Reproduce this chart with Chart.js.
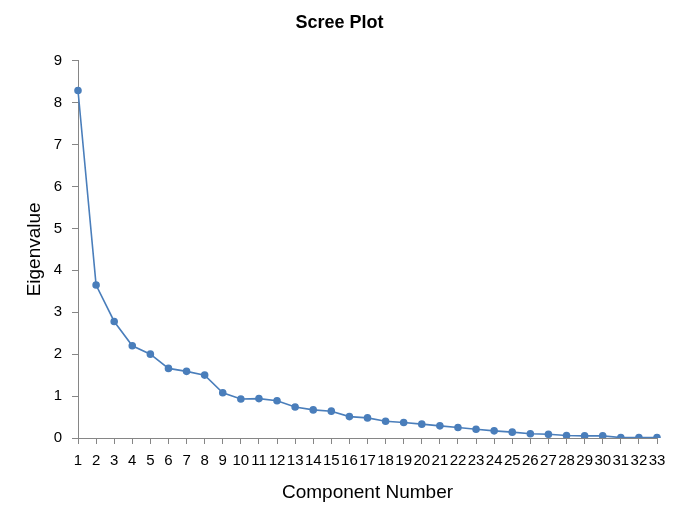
<!DOCTYPE html>
<html>
<head>
<meta charset="utf-8">
<script src="https://cdn.jsdelivr.net/npm/chart.js@4"></script>
<style>
  body { margin: 0; background: #fff; }
  #wrap { width: 679px; height: 520px; }
</style>
</head>
<body>
<div id="wrap"><canvas id="scree"></canvas></div>
<script>
// Scree plot data
const components = ['1', '2', '3', '4', '5', '6', '7', '8', '9', '10', '11',
  '12', '13', '14', '15', '16', '17', '18', '19', '20', '21', '22',
  '23', '24', '25', '26', '27', '28', '29', '30', '31', '32', '33'];
const eigenvalues = [8.29, 3.65, 2.78, 2.20, 2.00, 1.66, 1.59, 1.50, 1.08, 0.93, 0.94,
  0.89, 0.74, 0.67, 0.64, 0.51, 0.48, 0.40, 0.37, 0.33, 0.29, 0.25,
  0.21, 0.17, 0.14, 0.10, 0.09, 0.06, 0.05, 0.05, 0.01, 0.01, 0.01];
const yMin = 0, yMax = 9, yStep = 1;

const blue = '#4a7ebb';
const axisGray = '#868686';
const fontFam = '"Liberation Sans", Arial, sans-serif';

new Chart(document.getElementById('scree'), {
  type: 'line',
  data: {
    labels: components,
    datasets: [{
      label: 'Eigenvalue',
      data: eigenvalues,
      borderColor: blue,
      backgroundColor: blue,
      borderWidth: 1.6,
      pointRadius: 3,
      pointBackgroundColor: blue,
      pointBorderColor: blue,
      tension: 0
    }]
  },
  options: {
    responsive: true,
    maintainAspectRatio: false,
    animation: false,
    layout: { padding: { left: 22, right: 22, top: 0, bottom: 0 } },
    plugins: {
      legend: { display: false },
      tooltip: { enabled: false },
      title: {
        display: true,
        text: 'Scree Plot',
        color: '#000',
        font: { family: fontFam, size: 18, weight: 'bold', lineHeight: 1.2 },
        padding: { top: 12.2, bottom: 26.9 }
      }
    },
    scales: {
      x: {
        offset: false,
        grid: { drawOnChartArea: false, drawTicks: true, tickLength: 6, color: axisGray },
        border: { display: true, color: axisGray, width: 1 },
        ticks: {
          autoSkip: false, maxRotation: 0, minRotation: 0,
          padding: 8, color: '#000',
          font: { family: fontFam, size: 15 }
        },
        title: {
          display: true, text: 'Component Number', color: '#000',
          font: { family: fontFam, size: 19, lineHeight: 1.2 },
          padding: { top: 0, bottom: 15.6 }
        },
        afterFit: (s) => { s.height = 82; }
      },
      y: {
        min: yMin, max: yMax,
        grid: { drawOnChartArea: false, drawTicks: true, tickLength: 6, color: axisGray },
        border: { display: true, color: axisGray, width: 1 },
        ticks: {
          stepSize: yStep, padding: 10, color: '#000',
          font: { family: fontFam, size: 15 }
        },
        title: {
          display: true, text: 'Eigenvalue', color: '#000',
          font: { family: fontFam, size: 19, lineHeight: 1.2 },
          padding: { top: 1.6, bottom: 0 }
        },
        afterFit: (s) => { s.width = 56; }
      }
    }
  }
});
</script>
</body>
</html>
